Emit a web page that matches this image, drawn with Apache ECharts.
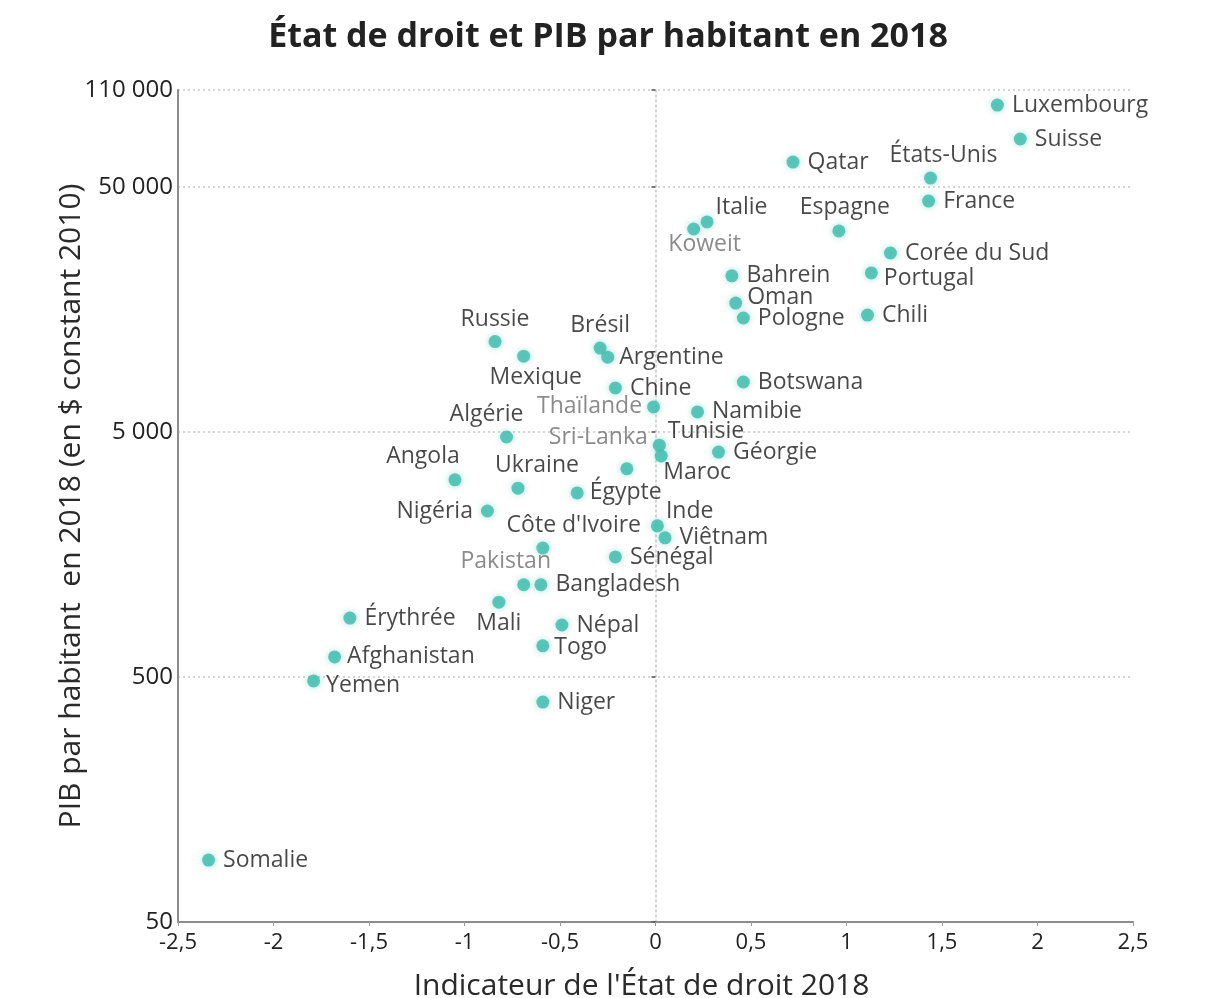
<!DOCTYPE html>
<html>
<head>
<meta charset="utf-8">
<script src="https://cdn.jsdelivr.net/npm/echarts@6/dist/echarts.min.js"></script>
<style>
html,body{margin:0;padding:0;background:#fff;}
#chart{width:1216px;height:998px;}
</style>
</head>
<body>
<div id="chart"></div>
<script>
// ---- Data ----
const countries = ['Luxembourg','Suisse','Qatar','États-Unis','France','Italie','Koweit','Espagne','Corée du Sud','Bahrein','Portugal','Oman','Pologne','Chili','Russie','Brésil','Argentine','Mexique','Chine','Botswana','Thaïlande','Namibie','Algérie','Sri-Lanka','Tunisie','Géorgie','Maroc','Angola','Ukraine','Égypte','Nigéria','Inde','Viêtnam',"Côte d'Ivoire",'Sénégal','Pakistan','Bangladesh','Mali','Érythrée','Népal','Togo','Afghanistan','Yemen','Niger','Somalie'];
const ruleOfLaw = [1.79,1.91,0.72,1.44,1.43,0.27,0.20,0.96,1.23,0.40,1.13,0.42,0.46,1.11,-0.84,-0.29,-0.25,-0.69,-0.21,0.46,-0.01,0.22,-0.78,0.02,0.03,0.33,-0.15,-1.05,-0.72,-0.41,-0.88,0.01,0.05,-0.59,-0.21,-0.69,-0.60,-0.82,-1.60,-0.49,-0.59,-1.68,-1.79,-0.59,-2.34];
const gdpPerCapita = [108000,78500,63200,54400,43800,36000,33700,33100,26900,21700,22300,16800,14600,15000,11700,11000,10100,10200,7560,8000,6330,6040,4770,4420,3990,4140,3540,3190,2950,2820,2380,2070,1850,1680,1545,1190,1190,1010,870,815,670,604,482,395,89.5];
const xTicks = [-2.5,-2,-1.5,-1,-0.5,0,0.5,1,1.5,2,2.5];
const yTickLabels = ['50','500','5 000','50 000','110 000'];
const yBase = 50;
const yTop = 3.396; // top of the axis, in decades above 50

// ---- Label placement (style only) ----
const labelPlace = {
  'États-Unis':['top',[13,3]], 'Italie':['right',[-6,-15]], 'Koweit':['bottom',[11,-11]],
  'Espagne':['top',[6,3]], 'Portugal':['right',[-2,6]], 'Oman':['right',[-3,-6]],
  'Russie':['top',[0,4]], 'Brésil':['top',[0,3]], 'Mexique':['bottom',[12,-5]],
  'Thaïlande':['left',[3,0]], 'Algérie':['top',[-20,3]], 'Sri-Lanka':['left',[3,-8]],
  'Tunisie':['right',[-8,-25]], 'Maroc':['right',[22,4]], 'Angola':['top',[-32,3]],
  'Ukraine':['top',[19,3]], 'Nigéria':['left',[0,0]], 'Inde':['right',[-6,-14]],
  "Côte d'Ivoire":['top',[31,3]], 'Pakistan':['top',[-18,3]], 'Mali':['bottom',[0,-5]],
  'Yemen':['right',[-2,5]], 'Argentine':['right',[-3,0]], 'Togo':['right',[-3,2]],
  'Afghanistan':['right',[-2,0]], 'Égypte':['right',[-2,0]]
};
const greyLabels = ['Koweit','Thaïlande','Sri-Lanka','Pakistan'];

const points = countries.map((name, i) => {
  const p = labelPlace[name] || ['right',[0,0]];
  return {
    name: name,
    value: [ruleOfLaw[i], Math.log10(gdpPerCapita[i] / yBase)],
    label: {
      position: p[0],
      offset: p[1],
      color: greyLabels.includes(name) ? '#6e6e6e' : '#1a1a1a'
    }
  };
});

const chart = echarts.init(document.getElementById('chart'));
const FONT = '"Open Sans", "Noto Sans", sans-serif';
const yLabelFmt = v => {
  const r = Math.round(v);
  return Math.abs(v - r) < 1e-6 ? yTickLabels[r] : yTickLabels[yTickLabels.length - 1];
};
chart.setOption({
  animation: false,
  textStyle: { fontFamily: FONT },
  title: {
    text: 'État de droit et PIB par habitant en 2018',
    left: 'center', top: 15,
    textStyle: { fontFamily: FONT, fontSize: 34, fontWeight: 'bold', color: '#222' }
  },
  grid: { left: 178, right: 83, top: 90, bottom: 76, containLabel: false, outerBoundsMode: 'none' },
  xAxis: {
    type: 'value', min: xTicks[0], max: xTicks[xTicks.length - 1], interval: 0.5,
    name: "Indicateur de l'État de droit 2018",
    nameLocation: 'middle', nameGap: 49,
    nameTextStyle: { fontFamily: FONT, fontSize: 30, color: '#2a2a2a', padding: [0, 28, 0, 0] },
    axisLine: { onZero: false, lineStyle: { color: '#8c8c8c', width: 2 } },
    axisTick: { show: true, length: 4, lineStyle: { color: '#999' } },
    axisLabel: { fontSize: 22, color: '#222', margin: 10,
      formatter: v => String(v).replace('.', ',') },
    splitLine: { show: false }
  },
  yAxis: [{
    type: 'value', min: 0, max: yTop, interval: 1,
    name: 'PIB par habitant  en 2018 (en $ constant 2010)',
    nameLocation: 'middle', nameGap: 92, nameRotate: 90, nameMoveOverlap: false,
    nameTextStyle: { fontFamily: FONT, fontSize: 30, color: '#2a2a2a' },
    axisLine: { show: true, onZero: false, lineStyle: { color: '#8c8c8c', width: 2 } },
    axisTick: { show: false },
    axisLabel: { fontSize: 24, color: '#222', margin: 5, formatter: yLabelFmt },
    splitLine: { show: true, lineStyle: { color: '#c8c8c8', type: [2, 3], width: 1.5 } }
  }, {
    type: 'value', min: 0, max: yTop, interval: 1, position: 'left',
    axisLine: { show: true, onZero: true, onZeroAxisIndex: 0,
      lineStyle: { color: '#c8c8c8', type: [2, 3], width: 1.5 } },
    axisTick: { show: true, length: 4, lineStyle: { color: '#555', width: 1.5 } },
    axisLabel: { show: false },
    splitLine: { show: false }
  }],
  series: [{
    type: 'scatter',
    symbolSize: 13,
    z: 3,
    itemStyle: { color: '#3bbcad', shadowBlur: 6, shadowColor: 'rgba(59,188,173,0.55)' },
    label: { show: true, formatter: '{b}', fontSize: 23, fontFamily: FONT, distance: 8 },
    data: points
  }]
});
</script>
</body>
</html>
